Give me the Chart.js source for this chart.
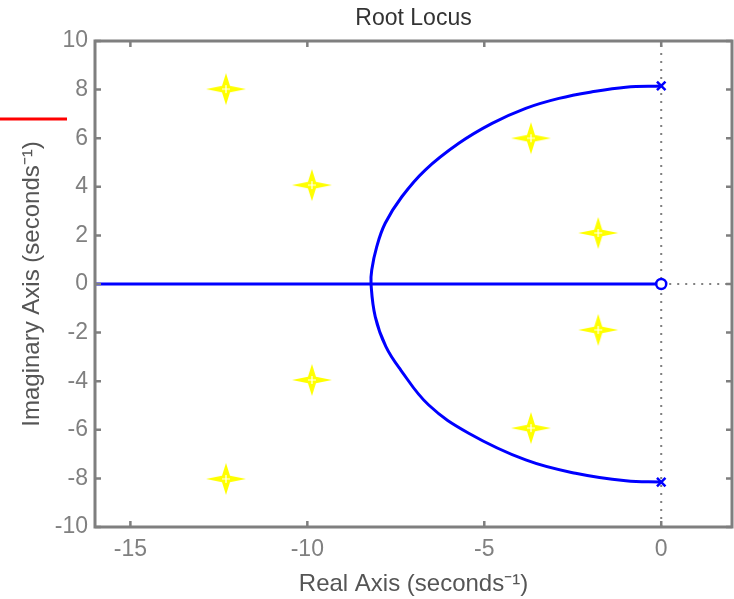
<!DOCTYPE html>
<html><head><meta charset="utf-8">
<script src="https://cdn.jsdelivr.net/npm/chart.js@4"></script>
<style>html,body{margin:0;padding:0;background:#fff}</style>
</head><body>
<canvas id="c" width="734" height="599" style="display:block;width:734px;height:599px"></canvas>
<script>
// ---- data ----
const xTickValues = [-15, -10, -5, 0];
const yTickValues = [-10, -8, -6, -4, -2, 0, 2, 4, 6, 8, 10];
const poleX = [0, 0];
const poleY = [8.15, -8.15];
const zeroX = [0];
const zeroY = [0];
const realAxisX = [-16, 0];
const realAxisY = [0, 0];
// locus branch: upper pole -> breakaway -> lower pole
const locusX = [0, -1.0, -1.95, -2.89, -3.83, -4.78, -5.72, -6.67, -7.33, -7.8, -8.04, -8.18, -8.2,
                -8.08, -7.78, -7.36, -6.57, -5.44, -3.83, -2.42, -1.0, 0];
const locusY = [8.15, 8.1, 7.91, 7.64, 7.23, 6.61, 5.79, 4.69, 3.59, 2.5, 1.53, 0.58, 0,
                -1.35, -2.58, -3.54, -4.98, -6.14, -7.24, -7.79, -8.1, -8.15];
const starX = [-12.3, -9.87, -3.68, -1.78, -1.78, -3.68, -9.87, -12.3];
const starY = [8.02, 4.07, 6.0, 2.1, -1.89, -5.93, -3.95, -8.02];
const vLineX = [0, 0], vLineY = [-10, 10];
const hLineX = [0, 2], hLineY = [0, 0];

const pts = (xs, ys) => xs.map((x, i) => ({x, y: ys[i]}));

// star marker image
function makeStar() {
  const c = document.createElement('canvas');
  c.width = 44; c.height = 36;
  const g = c.getContext('2d');
  const cx = 22, cy = 18;
  g.fillStyle = '#ffff00';
  g.beginPath();
  g.moveTo(cx + 20, cy); g.lineTo(cx + 4, cy - 3.2); g.lineTo(cx, cy - 16); g.lineTo(cx - 4, cy - 3.2);
  g.lineTo(cx - 20, cy); g.lineTo(cx - 4, cy + 3.2); g.lineTo(cx, cy + 16); g.lineTo(cx + 4, cy + 3.2);
  g.closePath(); g.fill();
  g.strokeStyle = '#ffffff'; g.lineWidth = 1.2;
  g.beginPath(); g.moveTo(cx - 4, cy); g.lineTo(cx + 4, cy); g.moveTo(cx, cy - 4); g.lineTo(cx, cy + 4); g.stroke();
  return c;
}
const starImg = makeStar();

const FONT = "'Liberation Sans', Arial, sans-serif";
const BLUE = '#0000ff';
const FRAME = '#7f7f7f';

const framePlugin = {
  id: 'frame',
  afterDatasetsDraw(chart) {
    const {ctx, chartArea: a, scales} = chart;
    ctx.save();
    ctx.strokeStyle = FRAME;
    ctx.lineWidth = 3;
    ctx.strokeRect(a.left, a.top, a.right - a.left, a.bottom - a.top);
    ctx.lineWidth = 2.5;
    const tl = 6;
    ctx.beginPath();
    xTickValues.forEach(v => {
      const p = scales.x.getPixelForValue(v);
      ctx.moveTo(p, a.bottom); ctx.lineTo(p, a.bottom - tl);
      ctx.moveTo(p, a.top); ctx.lineTo(p, a.top + tl);
    });
    yTickValues.forEach(v => {
      const p = scales.y.getPixelForValue(v);
      ctx.moveTo(a.left, p); ctx.lineTo(a.left + tl, p);
      ctx.moveTo(a.right, p); ctx.lineTo(a.right - tl, p);
    });
    ctx.stroke();
    ctx.restore();
  },
  afterDraw(chart) {
    // stray red stroke at upper left of the original figure
    const ctx = chart.ctx;
    ctx.save();
    ctx.strokeStyle = '#ff0000';
    ctx.lineWidth = 3;
    ctx.beginPath(); ctx.moveTo(0, 119); ctx.lineTo(67, 119); ctx.stroke();
    ctx.restore();
  }
};

new Chart(document.getElementById('c'), {
  type: 'scatter',
  data: {
    datasets: [
      {data: pts(starX, starY), pointStyle: starImg, pointRadius: 20, order: 0},
      {data: pts(poleX, poleY), pointStyle: 'crossRot', pointRadius: 6, borderColor: BLUE, borderWidth: 2.5, order: 0},
      {data: pts(zeroX, zeroY), pointStyle: 'circle', pointRadius: 5, borderColor: BLUE, backgroundColor: '#ffffff', borderWidth: 2.5, order: 0},
      {data: pts(locusX, locusY), showLine: true, borderColor: BLUE, borderWidth: 3, pointRadius: 0, tension: 0.4, order: 1},
      {data: pts(realAxisX, realAxisY), showLine: true, borderColor: BLUE, borderWidth: 3, pointRadius: 0, order: 1},
      {data: pts(vLineX, vLineY), showLine: true, borderColor: '#808080', borderWidth: 2, borderDash: [2, 6], pointRadius: 0, order: 2},
      {data: pts(hLineX, hLineY), showLine: true, borderColor: '#808080', borderWidth: 2, borderDash: [2, 6], pointRadius: 0, order: 2}
    ]
  },
  options: {
    responsive: false,
    animation: false,
    devicePixelRatio: 1,
    layout: {autoPadding: false, padding: {left: 0, right: 2, top: 0, bottom: 0}},
    plugins: {
      legend: {display: false},
      tooltip: {enabled: false},
      title: {
        display: true, fullSize: false, text: 'Root Locus', color: '#333333',
        font: {family: FONT, size: 23, weight: 'normal', lineHeight: 1.2},
        padding: {top: 5, bottom: 8.4}
      }
    },
    scales: {
      x: {
        type: 'linear', min: -16, max: 2,
        afterBuildTicks: s => { s.ticks = xTickValues.map(v => ({value: v})); },
        afterFit: s => { s.height = 72; s.paddingLeft = 0; s.paddingRight = 0; },
        grid: {display: false, drawTicks: false},
        border: {display: false},
        ticks: {color: '#808080', padding: 9, font: {family: FONT, size: 23}, maxRotation: 0},
        title: {display: true, text: 'Real Axis (seconds⁻¹)', color: '#555555',
          font: {family: FONT, size: 24, lineHeight: 1.2}, padding: {top: 0, bottom: 0}}
      },
      y: {
        type: 'linear', min: -10, max: 10,
        afterBuildTicks: s => { s.ticks = yTickValues.map(v => ({value: v})); },
        afterFit: s => { s.width = 95; s.paddingTop = 0; s.paddingBottom = 0; },
        grid: {display: false, drawTicks: false},
        border: {display: false},
        ticks: {color: '#808080', padding: 7, font: {family: FONT, size: 23}},
        title: {display: true, text: 'Imaginary Axis (seconds⁻¹)', color: '#555555',
          font: {family: FONT, size: 24, lineHeight: 1.2}, padding: {top: 18, bottom: 0}}
      }
    }
  },
  plugins: [framePlugin]
});
</script>
</body></html>
